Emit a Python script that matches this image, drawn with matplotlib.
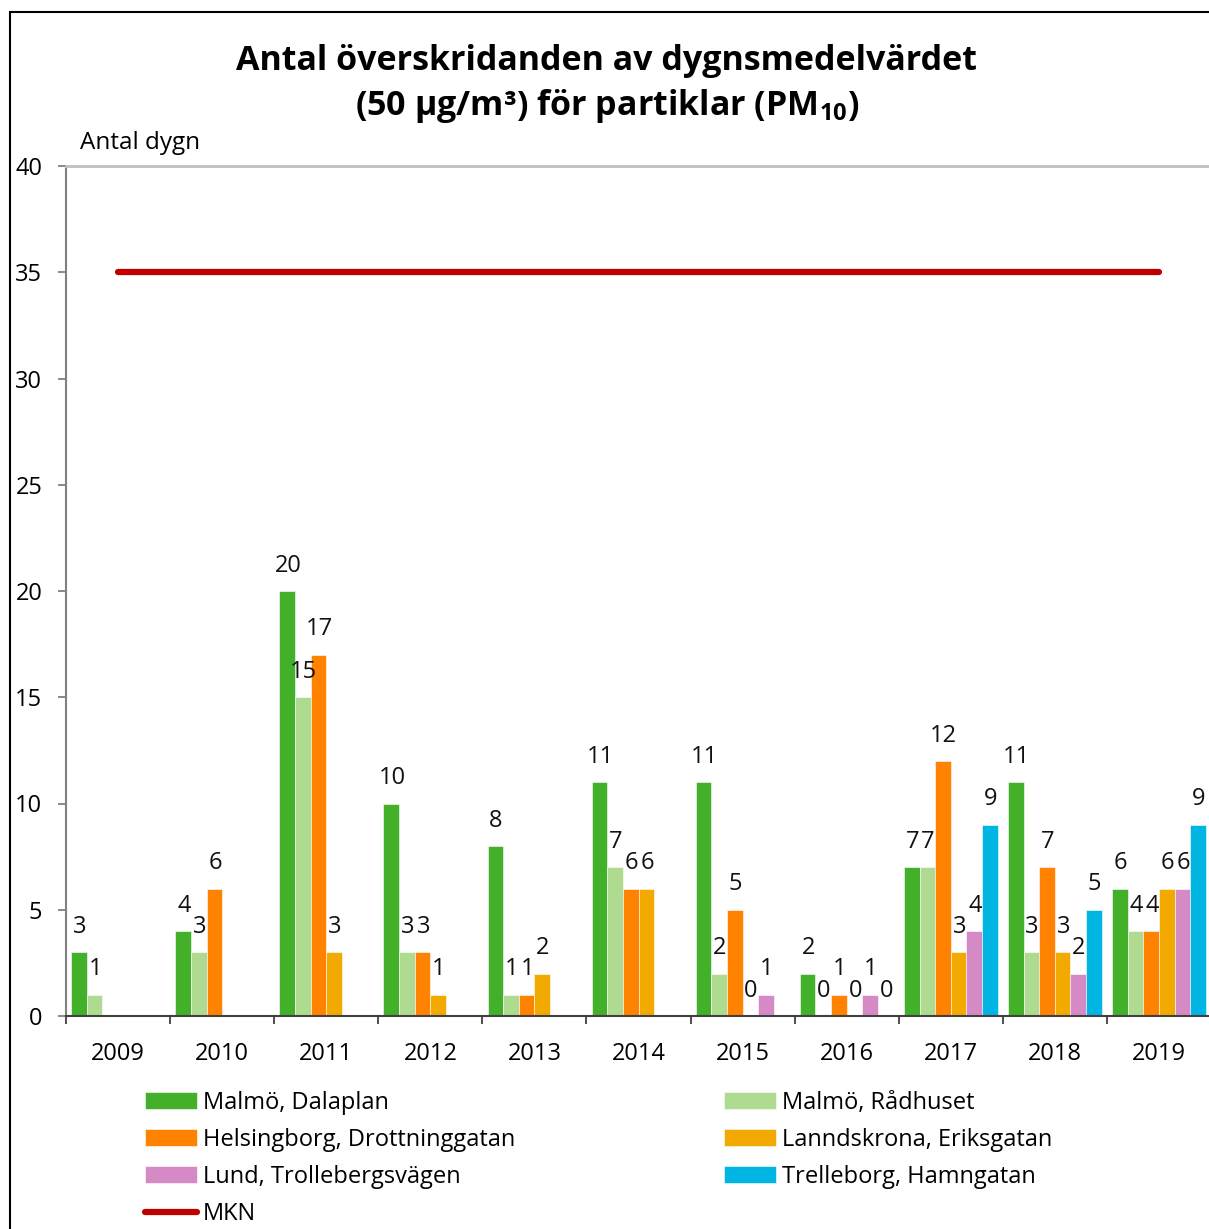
import numpy as np
import matplotlib
matplotlib.use("Agg")
import matplotlib.pyplot as plt
from matplotlib.patches import Rectangle

plt.rcParams['font.family'] = ['Open Sans', 'DejaVu Sans']
plt.rcParams['mathtext.fontset'] = 'custom'
plt.rcParams['mathtext.bf'] = 'Open Sans:bold'
plt.rcParams['mathtext.rm'] = 'Open Sans'

# Data
years = ['2009', '2010', '2011', '2012', '2013', '2014', '2015', '2016', '2017', '2018', '2019']
nan = np.nan
dalaplan = [3, 4, 20, 10, 8, 11, 11, 2, 7, 11, 6]
radhuset = [1, 3, 15, 3, 1, 7, 2, 0, 7, 3, 4]
helsingborg = [nan, 6, 17, 3, 1, 6, 5, 1, 12, 7, 4]
landskrona = [nan, nan, 3, 1, 2, 6, 0, 0, 3, 3, 6]
lund = [nan, nan, nan, nan, nan, nan, 1, 1, 4, 2, 6]
trelleborg = [nan, nan, nan, nan, nan, nan, nan, 0, 9, 5, 9]
mkn = 35

series = [
    ("Malmö, Dalaplan", dalaplan, "#43B02A"),
    ("Malmö, Rådhuset", radhuset, "#AEDB8F"),
    ("Helsingborg, Drottninggatan", helsingborg, "#FF8200"),
    ("Lanndskrona, Eriksgatan", landskrona, "#F2A900"),
    ("Lund, Trollebergsvägen", lund, "#D58AC6"),
    ("Trelleborg, Hamngatan", trelleborg, "#00B5E2"),
]

W, H = 1209, 1229
fig = plt.figure(figsize=(W / 100, H / 100), dpi=100)
ax = fig.add_axes([66 / W, 1 - 1016 / H, (1211 - 66) / W, (1016 - 166) / H])

x = np.arange(len(years))
bw = 0.15
handles = []
for j, (name, vals, col) in enumerate(series):
    vals = np.array(vals, dtype=float)
    ok = ~np.isnan(vals)
    xs = x[ok] + (j - 2.5) * bw
    b = ax.bar(xs, vals[ok], width=bw, color=col, edgecolor='white', linewidth=0.4, label=name)
    handles.append(b)
    for xi, v in zip(xs, vals[ok]):
        ax.annotate(f"{int(v)}", (xi, v), xytext=(0.5, 14), textcoords='offset points',
                    ha='center', va='baseline', fontsize=17, color='#111111')

line, = ax.plot([x[0], x[-1]], [mkn, mkn], color='#C00000', lw=4.5,
                solid_capstyle='round', label='MKN')

ax.set_xlim(-0.5, len(years) - 0.5)
ax.set_ylim(0, 40)
ax.set_yticks(np.arange(0, 41, 5))
ax.set_xticks(x)
ax.set_xticklabels(years)
ax.set_xticks(np.arange(-0.5, len(years), 1.0), minor=True)
ax.tick_params(axis='x', which='major', length=0, pad=19, labelsize=17)
ax.tick_params(axis='x', which='minor', length=6, width=1.3, color='#404040')
ax.tick_params(axis='y', length=6, width=1.3, color='#808080', pad=11, labelsize=17)
ax.spines['top'].set_color('#C0C0C0')
ax.spines['top'].set_linewidth(2)
ax.spines['left'].set_color('#808080')
ax.spines['left'].set_linewidth(1.5)
ax.spines['bottom'].set_color('#404040')
ax.spines['bottom'].set_linewidth(1.5)
ax.spines['right'].set_visible(False)

fig.text(80 / W, 1 - 143 / H, "Antal dygn", fontsize=17.5, ha='left', va='center')

fig.text(607 / W, 1 - 61 / H, "Antal överskridanden av dygnsmedelvärdet",
         fontsize=24.5, fontweight='bold', ha='center', va='center')
fig.text(607 / W, 1 - 106 / H, r"(50 µg/m³) för partiklar (PM$_{\mathbf{10}}$)",
         fontsize=24.5, fontweight='bold', ha='center', va='center')

leg_kw = dict(frameon=False, fontsize=17, handlelength=2.2, handletextpad=0.25,
              labelspacing=0.55, borderpad=0, borderaxespad=0, loc='upper left')
left_items = [handles[0], handles[2], handles[4], line]
right_items = [handles[1], handles[3], handles[5]]
leg1 = fig.legend(left_items, [h.get_label() for h in left_items],
                  bbox_to_anchor=(145 / W, 1 - 1091 / H), **leg_kw)
leg2 = fig.legend(right_items, [h.get_label() for h in right_items],
                  bbox_to_anchor=(724 / W, 1 - 1091 / H), **leg_kw)

fig.patches.append(Rectangle((10 / W, -0.1), 1.2, 1 - 12 / H + 0.1, fill=False,
                             lw=1.5, edgecolor='black', transform=fig.transFigure))

fig.savefig("out.png", dpi=100)
